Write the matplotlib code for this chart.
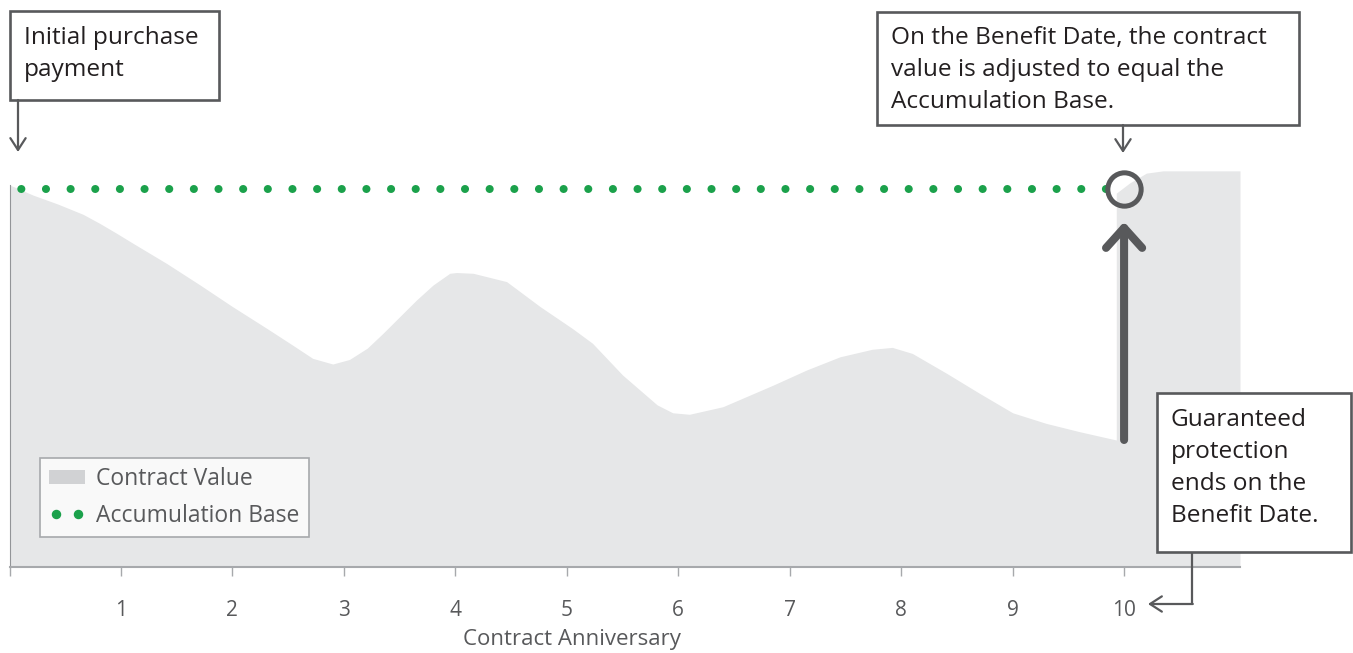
import numpy as np
import matplotlib.pyplot as plt
from matplotlib.patches import Rectangle, Patch
from matplotlib.lines import Line2D

plt.rcParams['font.family'] = ['Open Sans', 'DejaVu Sans']

# contract value (contract years, % of accumulation base)
cv_x = [0.0, 0.21, 0.435, 0.66, 0.81, 0.96, 1.11, 1.41, 1.71, 2.00, 2.31,
        2.54, 2.72, 2.90, 3.05, 3.21, 3.35, 3.50, 3.65, 3.80, 3.95, 4.01,
        4.16, 4.46, 4.76, 5.05, 5.23, 5.50, 5.81, 5.95, 6.10, 6.40, 6.85,
        7.15, 7.45, 7.74, 7.92, 8.10, 8.41, 8.70, 9.00, 9.30, 9.60, 9.93,
        9.93, 10.05, 10.20, 10.35, 11.04]
cv_y = [101.1, 98.4, 96.0, 93.3, 90.9, 88.3, 85.6, 80.3, 74.6, 68.9, 63.1,
        58.7, 55.2, 53.7, 54.9, 57.9, 61.8, 66.2, 70.6, 74.6, 77.7, 77.9,
        77.7, 75.5, 68.9, 63.1, 59.2, 50.8, 42.9, 40.8, 40.4, 42.4, 48.1,
        52.1, 55.6, 57.6, 58.1, 56.5, 51.2, 46.0, 40.8, 38.0, 35.8, 33.6,
        98.9, 101.6, 104.2, 104.8, 104.8]

acc_x = [0, 10]
acc_y = [100, 100]

benefit_year = 10
value_before = 33.6

years = list(range(0, 11))
year_labels = [''] + [str(y) for y in years[1:]]

grey = '#58595b'
green = '#1ba14b'
area = '#e6e7e8'

fig = plt.figure(figsize=(13.53, 6.53), dpi=100)
ax = fig.add_axes([9.5 / 1353, 86 / 653, 1230.5 / 1353, 434.7 / 653])
ax.set_xlim(0, 11.04)
ax.set_ylim(0, 115)

ax.fill_between(cv_x, cv_y, color=area, lw=0, zorder=1)
ax.plot(acc_x, acc_y, color=green, lw=5.8, linestyle=(1.66, (0.01, 3.05)),
        dash_capstyle='round', zorder=3)

# circle and big arrow on the benefit date
ax.plot([benefit_year], [acc_y[-1]], marker='o', ms=24, mfc='none', mec=grey,
        mew=3.6, zorder=4)
ax.annotate('', xy=(benefit_year, 91.3), xytext=(benefit_year, value_before),
            arrowprops=dict(arrowstyle='->,head_length=0.72,head_width=0.65',
                            lw=5.8, color=grey, mutation_scale=20,
                            shrinkA=0, shrinkB=0), zorder=4)

for s in ['top', 'right']:
    ax.spines[s].set_visible(False)
ax.spines['left'].set_bounds(0, 101)
ax.spines['left'].set_color('#939598')
ax.spines['bottom'].set_color('#a7a9ac')
ax.spines['bottom'].set_linewidth(1.5)
ax.set_yticks([])
ax.set_xticks(years)
ax.set_xticklabels(year_labels)
ax.tick_params(axis='x', length=6.5, width=1, color='#a7a9ac', pad=17,
               labelsize=15, labelcolor=grey)
ax.set_xlabel('Contract Anniversary', fontsize=16, color=grey)
ax.xaxis.label.set_va('center')
ax.xaxis.set_label_coords(5.05 / 11.04, -72 / 434.7)

handles = [Patch(facecolor='#d1d2d4', edgecolor='none'),
           Line2D([], [], color=green, marker='o', ls='none', ms=5.8)]
leg = ax.legend(handles, ['Contract Value', 'Accumulation Base'],
                loc='lower left', bbox_to_anchor=(0.0248, 0.069),
                borderaxespad=0, fontsize=16.5, frameon=True, fancybox=False,
                edgecolor='#a7a9ac', facecolor='#f9f9f9', framealpha=1,
                handlelength=1.55, handleheight=0.57, handletextpad=0.5,
                labelspacing=0.55, borderpad=0.4, numpoints=2)
leg.get_frame().set_linewidth(1.2)
for t in leg.get_texts():
    t.set_color(grey)

# overlay in pixel coordinates for the callout boxes
ov = fig.add_axes([0, 0, 1, 1])
ov.set_xlim(0, 1353)
ov.set_ylim(653, 0)
ov.axis('off')
ov.patch.set_alpha(0)

head = dict(arrowstyle='->,head_length=0.85,head_width=0.55', lw=1.6,
            color=grey, mutation_scale=10, shrinkA=0, shrinkB=0)
box_fs = 17.6

ov.add_patch(Rectangle((10, 11), 209, 89, facecolor='white', edgecolor=grey, lw=1.9))
ov.text(24, 54, 'Initial purchase\npayment', fontsize=box_fs, color='#231f20',
        va='center', ha='left', linespacing=1.45)
ov.annotate('', xy=(18, 152), xytext=(18, 100), arrowprops=head)

ov.add_patch(Rectangle((877, 12), 422, 113, facecolor='white', edgecolor=grey, lw=1.9))
ov.text(891, 70, 'On the Benefit Date, the contract\nvalue is adjusted to equal the\nAccumulation Base.',
        fontsize=box_fs, color='#231f20', va='center', ha='left', linespacing=1.45)
ov.annotate('', xy=(1123, 153), xytext=(1123, 125), arrowprops=head)

ov.add_patch(Rectangle((1157, 393), 194, 159, facecolor='white', edgecolor=grey, lw=1.9))
ov.text(1171, 468, 'Guaranteed\nprotection\nends on the\nBenefit Date.',
        fontsize=box_fs, color='#231f20', va='center', ha='left', linespacing=1.45)
ov.plot([1192, 1192], [552, 604], color=grey, lw=1.6, solid_capstyle='butt')
ov.annotate('', xy=(1148, 604), xytext=(1192.8, 604), arrowprops=head)

fig.savefig('out.png', dpi=100)
